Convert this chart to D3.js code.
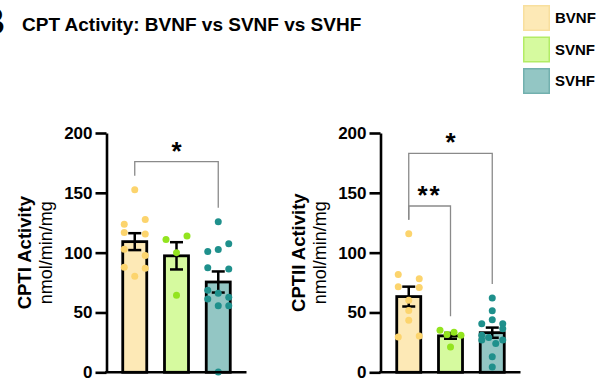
<!DOCTYPE html>
<html>
<head>
<meta charset="utf-8">
<script src="https://cdn.jsdelivr.net/npm/d3@7"></script>
<style>
  body { margin: 0; background: #fff; }
  svg { display: block; }
  text { font-family: "Liberation Sans", Arial, Helvetica, sans-serif; fill: #000; }
</style>
</head>
<body>
<svg id="chart" width="608" height="381"></svg>
<script>
// ---- data ----
const groups = ["BVNF", "SVNF", "SVHF"];
const yTicks = [0, 50, 100, 150, 200];

// individual animals, CPT I activity (nmol/min/mg), in entry order
const cpt1BVNF = [152.5, 123.8, 127.7, 116.8, 115.5, 102.9, 97.6, 87.9, 87, 80.3];
const cpt1SVNF = [111, 114, 100, 64.4];
const cpt1SVHF = [125.8, 101, 102.6, 107.5, 87.3, 86.4, 68.6, 66.1, 62.8, 61.3, 55.7, 55.7, 0.3];

// individual animals, CPT II activity (nmol/min/mg), in entry order
const cpt2BVNF = [115.7, 81.7, 78.1, 71.4, 70.8, 60.2, 51.6, 43.5, 29.5, 30.4];
const cpt2SVNF = [35.1, 31.5, 33.5, 31, 21.2];
const cpt2SVHF = [62, 51.5, 40.5, 44, 40.5, 31, 36.5, 27, 29, 24, 27, 13, 4.5];

// pairwise comparisons: group indices, significance label, bracket level (y units)
const cpt1Compare = [{ a: 0, b: 2, label: "*", level: 176 }];
const cpt2Compare = [
  { a: 0, b: 2, label: "*", level: 183 },
  { a: 0, b: 1, label: "**", level: 139 }
];

const panelTitles = [
  { main: "CPTI Activity", unit: "nmol/min/mg" },
  { main: "CPTII Activity", unit: "nmol/min/mg" }
];

// ---- styling ----
const barFill = { BVNF: "#fde9b6", SVNF: "#d6fa9f", SVHF: "#93c6c4" };
const dotFill = { BVNF: "#fcd46d", SVNF: "#93e41f", SVHF: "#1f908c" };
const swatchStroke = { BVNF: "#f8df9e", SVNF: "#b3ec66", SVHF: "#72b0ae" };

const svg = d3.select("#chart");

// panel label and heading
svg.append("text").attr("x", -21).attr("y", 34)
  .style("font-size", "36px").style("font-weight", "bold").text("B");
svg.append("text").attr("x", 22).attr("y", 31)
  .style("font-size", "19px").style("font-weight", "bold")
  .text("CPT Activity: BVNF vs SVNF vs SVHF");

// legend
const legend = svg.append("g").attr("transform", "translate(523,5)");
groups.forEach((g, i) => {
  const row = legend.append("g").attr("transform", `translate(0,${i * 31.5})`);
  row.append("rect").attr("x", 0.75).attr("y", 0.75).attr("width", 25.5).attr("height", 24.5)
    .attr("fill", barFill[g]).attr("stroke", swatchStroke[g]).attr("stroke-width", 1.5);
  row.append("text").attr("x", 32).attr("y", 18)
    .style("font-size", "15px").style("font-weight", "bold").text(g);
});

// shared scales
const y = d3.scaleLinear().domain([0, 200]).range([372.3, 133]);
const x = d3.scaleBand().domain(groups).range([0, 140]).paddingInner(0.425).paddingOuter(0.389);

// rows of dots: points that sit within a small vertical band share a row,
// spread over fixed slots in entry order
const dotR = 3.5, slotStep = 7;
const slotSets = { 1: [0], 2: [-1.5, 1.5], 3: [-1.5, 0, 1.5], 4: [-1.5, -0.5, 0.5, 1.5] };
function scatterLayout(vals) {
  const pts = vals.map((v, i) => ({ v, i, py: y(v) }));
  const byHeight = pts.slice().sort((p, q) => p.py - q.py || p.i - q.i);
  const rows = [];
  let cur = null;
  byHeight.forEach(p => {
    if (!cur || cur.length >= 4 || p.py - cur[0].py > 8.5) { cur = []; rows.push(cur); }
    cur.push(p);
  });
  rows.forEach(r => {
    r.sort((p, q) => p.i - q.i);
    r.forEach((p, k) => { p.dx = slotSets[r.length][k] * slotStep; });
  });
  return pts;
}

function drawPanel(ox, series, compare, title) {
  const g = svg.append("g").attr("transform", `translate(${ox},0)`);
  const stats = groups.map((name, i) => {
    const vals = series[i];
    return {
      name, vals,
      mean: d3.mean(vals),
      sem: d3.deviation(vals) / Math.sqrt(vals.length),
      max: d3.max(vals)
    };
  });

  // bars
  g.selectAll("rect.bar").data(stats).join("rect").attr("class", "bar")
    .attr("x", d => x(d.name))
    .attr("width", x.bandwidth())
    .attr("y", d => y(d.mean))
    .attr("height", d => y(0) - y(d.mean))
    .attr("fill", d => barFill[d.name])
    .attr("stroke", "#000").attr("stroke-width", 2.8);

  // error bars (mean ± SEM)
  const capHalf = 6.5;
  stats.forEach(d => {
    const cx = x(d.name) + x.bandwidth() / 2;
    const eb = g.append("g").attr("stroke", "#000").attr("stroke-width", 2.5).attr("fill", "none");
    eb.append("line").attr("x1", cx).attr("x2", cx).attr("y1", y(d.mean + d.sem)).attr("y2", y(d.mean - d.sem));
    eb.append("line").attr("x1", cx - capHalf).attr("x2", cx + capHalf).attr("y1", y(d.mean + d.sem)).attr("y2", y(d.mean + d.sem));
    eb.append("line").attr("x1", cx - capHalf).attr("x2", cx + capHalf).attr("y1", y(d.mean - d.sem)).attr("y2", y(d.mean - d.sem));
  });

  // individual points
  stats.forEach(d => {
    const cx = x(d.name) + x.bandwidth() / 2;
    g.append("g").selectAll("circle").data(scatterLayout(d.vals)).join("circle")
      .attr("cx", p => cx + p.dx)
      .attr("cy", p => p.py)
      .attr("r", dotR)
      .attr("fill", dotFill[d.name]);
  });

  // y axis
  const yAxis = g.append("g")
    .call(d3.axisLeft(y).tickValues(yTicks).tickSize(11).tickSizeOuter(0).tickPadding(3));
  yAxis.select(".domain").attr("stroke", "#000").attr("stroke-width", 2.6);
  yAxis.selectAll(".tick line").attr("stroke", "#000").attr("stroke-width", 2.6);
  yAxis.selectAll(".tick text")
    .style("font-size", "17px").style("font-weight", "bold")
    .style("font-family", "'Liberation Sans', Arial, Helvetica, sans-serif")
    .attr("fill", "#000");

  // x axis baseline
  g.append("line").attr("x1", -1.3).attr("x2", 140).attr("y1", y(0)).attr("y2", y(0))
    .attr("stroke", "#000").attr("stroke-width", 2.6);

  // axis titles
  const cy = (y(0) + y(200)) / 2;
  g.append("text").attr("transform", `translate(${-75.5},${cy}) rotate(-90)`)
    .attr("text-anchor", "middle")
    .style("font-size", "18.5px").style("font-weight", "bold").text(title.main);
  g.append("text").attr("transform", `translate(${-54.5},${cy}) rotate(-90)`)
    .attr("text-anchor", "middle")
    .style("font-size", "18px").text(title.unit);

  // significance brackets
  compare.forEach(c => {
    const xa = x(groups[c.a]) + x.bandwidth() / 2;
    const xb = x(groups[c.b]) + x.bandwidth() / 2;
    const yl = y(c.level);
    const ya = y(stats[c.a].max) - 14;
    const yb = y(stats[c.b].max) - 14;
    g.append("path")
      .attr("d", `M${xa},${ya}V${yl}H${xb}V${yb}`)
      .attr("fill", "none").attr("stroke", "#8a8a8a").attr("stroke-width", 1.3);
    g.append("text").attr("x", (xa + xb) / 2).attr("y", yl - 2)
      .attr("text-anchor", "middle")
      .style("font-size", "26px").style("font-weight", "bold")
      .style("letter-spacing", c.label.length > 1 ? "2px" : "0px")
      .text(c.label);
  });
}

drawPanel(106.5, [cpt1BVNF, cpt1SVNF, cpt1SVHF], cpt1Compare, panelTitles[0]);
drawPanel(380.5, [cpt2BVNF, cpt2SVNF, cpt2SVHF], cpt2Compare, panelTitles[1]);
</script>
</body>
</html>
